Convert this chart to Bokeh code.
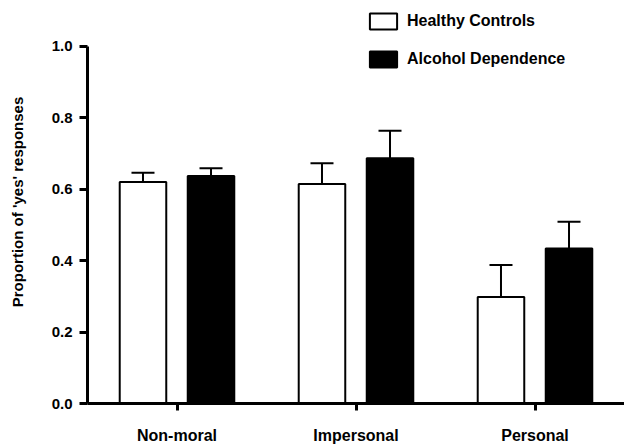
from bokeh.plotting import figure
from bokeh.models import (Range1d, FixedTicker, Whisker, TeeHead, ColumnDataSource,
                          Legend, LegendItem, PrintfTickFormatter)
from bokeh.embed import file_html
from bokeh.resources import INLINE

categories = ["Non-moral", "Impersonal", "Personal"]
healthy_mean = [0.620, 0.615, 0.298]
healthy_sem = [0.026, 0.058, 0.090]
alcohol_mean = [0.637, 0.687, 0.434]
alcohol_sem = [0.022, 0.077, 0.075]
y_ticks = [0.0, 0.2, 0.4, 0.6, 0.8, 1.0]
series_names = ["Healthy Controls", "Alcohol Dependence"]

FONT = "Liberation Sans"
centers = [i + 0.5 for i in range(len(categories))]
offset = 0.19
bar_w = 0.26

hc = ColumnDataSource(dict(
    x=[c - offset for c in centers], top=healthy_mean,
    lower=healthy_mean, upper=[m + s for m, s in zip(healthy_mean, healthy_sem)]))
ad = ColumnDataSource(dict(
    x=[c + offset for c in centers], top=alcohol_mean,
    lower=alcohol_mean, upper=[m + s for m, s in zip(alcohol_mean, alcohol_sem)]))

p = figure(width=624, height=446, x_range=Range1d(0, 3), y_range=Range1d(0, 1.1285),
           output_backend="svg", toolbar_location=None,
           min_border_left=87, min_border_right=0, min_border_top=0, min_border_bottom=42)
p.outline_line_color = None
p.grid.visible = False

for src in (hc, ad):
    p.add_layout(Whisker(source=src, base="x", lower="lower", upper="upper",
                         line_color="black", line_width=2, lower_head=None,
                         upper_head=TeeHead(size=23, line_width=2, line_color="black")))

r_hc = p.vbar(x="x", top="top", width=bar_w, bottom=0, source=hc,
              fill_color="white", line_color="black", line_width=2)
r_ad = p.vbar(x="x", top="top", width=bar_w, bottom=0, source=ad,
              fill_color="black", line_color="black", line_width=2)

# axes
for ax in (p.xaxis[0], p.yaxis[0]):
    ax.axis_line_width = 3
    ax.axis_line_color = "black"
    ax.major_tick_line_width = 3
    ax.major_tick_line_color = "black"
    ax.major_tick_in = 0
    ax.minor_tick_line_color = None
    ax.major_label_text_font = FONT
    ax.major_label_text_font_style = "bold"
    ax.major_label_text_color = "black"

p.xaxis.ticker = FixedTicker(ticks=centers)
p.xaxis.major_label_overrides = {c: lab for c, lab in zip(centers, categories)}
p.xaxis.major_tick_out = 7
p.xaxis.major_label_standoff = 16
p.xaxis.major_label_text_font_size = "16px"

p.yaxis.ticker = FixedTicker(ticks=y_ticks)
p.yaxis.formatter = PrintfTickFormatter(format="%.1f")
p.yaxis.bounds = (0, 1.0)
p.yaxis.major_tick_out = 8
p.yaxis.major_label_standoff = 7
p.yaxis.major_label_text_font_size = "15px"
p.yaxis.axis_label = "Proportion of 'yes' responses"
p.yaxis.axis_label_text_font = FONT
p.yaxis.axis_label_text_font_style = "bold"
p.yaxis.axis_label_text_font_size = "15px"
p.yaxis.axis_label_text_color = "black"
p.yaxis.axis_label_standoff = 23

legend = Legend(items=[LegendItem(label=series_names[0], renderers=[r_hc]),
                       LegendItem(label=series_names[1], renderers=[r_ad])],
                location=(279, 334), orientation="vertical",
                glyph_width=34, glyph_height=20, label_height=17,
                spacing=18, padding=0, margin=0, label_standoff=7,
                border_line_color=None, background_fill_alpha=0,
                label_text_font=FONT, label_text_font_style="bold",
                label_text_font_size="16px", label_text_color="black")
p.add_layout(legend)

open("out.html", "w").write(file_html(p, INLINE))
